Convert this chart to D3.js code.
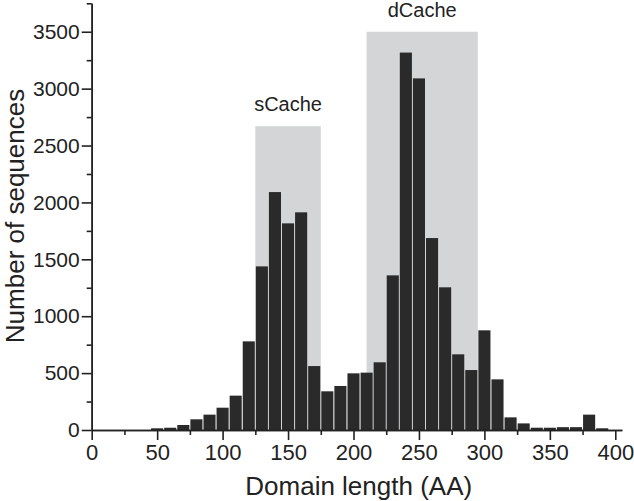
<!DOCTYPE html>
<html>
<head>
<meta charset="utf-8">
<script src="https://cdn.jsdelivr.net/npm/d3@7"></script>
<style>
  body { margin: 0; background: #fff; }
  svg text { font-family: "Liberation Sans", Arial, sans-serif; fill: #222; }
  .axis path, .axis line { stroke: #222; stroke-width: 1.6; }
</style>
</head>
<body>
<svg id="chart" width="634" height="501"></svg>
<script>
// histogram bins (start of each 10 AA bin) and counts
const binStarts = [45, 55, 65, 75, 85, 95, 105, 115, 125, 135, 145, 155, 165, 175, 185, 195,
                   205, 215, 225, 235, 245, 255, 265, 275, 285, 295, 305, 315, 325, 335, 345,
                   355, 365, 375, 385];
const counts = [15, 20, 44, 94, 135, 196, 302, 779, 1438, 2091, 1816, 1913, 562, 340, 387, 498,
                504, 595, 1359, 3317, 3090, 1687, 1254, 665, 527, 876, 445, 111, 58, 20, 20,
                25, 25, 135, 15];
const binWidth = 10;

// shaded domain regions
const regionNames = ["sCache", "dCache"];
const regionStarts = [125, 210];
const regionEnds = [175, 295];
const regionTops = [2670, 3500];

const xTicks = [0, 50, 100, 150, 200, 250, 300, 350, 400];
const yTicks = [0, 500, 1000, 1500, 2000, 2500, 3000, 3500];

const svg = d3.select("#chart");

const x = d3.scaleLinear().domain([0, 405]).range([91.7, 91.7 + 405 * 1.309]);
const y = d3.scaleLinear().domain([0, 3750]).range([430, 3.3]);

// grey boxes behind bars
const regions = regionNames.map((n, i) => ({name: n, x0: regionStarts[i], x1: regionEnds[i], top: regionTops[i]}));

svg.append("g").selectAll("rect")
    .data(regions)
    .enter().append("rect")
    .attr("x", d => x(d.x0))
    .attr("y", d => y(d.top))
    .attr("width", d => x(d.x1) - x(d.x0))
    .attr("height", d => y(0) - y(d.top))
    .attr("fill", "#d4d5d7");

svg.append("g").selectAll("text")
    .data(regions)
    .enter().append("text")
    .attr("x", d => x((d.x0 + d.x1) / 2))
    .attr("y", d => y(d.top) - 15)
    .attr("text-anchor", "middle")
    .style("font-size", "20px")
    .text(d => d.name);

// bars
const bins = binStarts.map((s, i) => ({x0: s, x1: s + binWidth, n: counts[i]}));

svg.append("g").selectAll("rect")
    .data(bins)
    .enter().append("rect")
    .attr("x", d => x(d.x0) + 0.5)
    .attr("y", d => y(d.n))
    .attr("width", d => x(d.x1) - x(d.x0) - 1)
    .attr("height", d => y(0) - y(d.n))
    .attr("fill", "#2a2a2a");

// minor ticks
const xMinor = d3.range(25, 401, 50);
const yMinor = d3.range(250, 3751, 500);

svg.append("g")
    .attr("class", "axis")
    .attr("transform", `translate(0,${y(0)})`)
    .call(d3.axisBottom(x).tickValues(xMinor).tickSize(5).tickSizeOuter(0).tickFormat(""));

svg.append("g")
    .attr("class", "axis")
    .attr("transform", `translate(${x(0)},0)`)
    .call(d3.axisLeft(y).tickValues(yMinor).tickSize(5).tickSizeOuter(0).tickFormat(""));

const xAxis = svg.append("g")
    .attr("class", "axis")
    .attr("transform", `translate(0,${y(0)})`)
    .call(d3.axisBottom(x).tickValues(xTicks).tickSize(10).tickSizeOuter(0).tickPadding(4)
        .tickFormat(d3.format("d")));

xAxis.selectAll("text").style("font-size", "22px");

const yAxis = svg.append("g")
    .attr("class", "axis")
    .attr("transform", `translate(${x(0)},0)`)
    .call(d3.axisLeft(y).tickValues(yTicks).tickSize(10).tickSizeOuter(0).tickPadding(2)
        .tickFormat(d3.format("d")));

yAxis.selectAll("text").style("font-size", "21px");

svg.selectAll(".axis text").attr("fill", "#222");

// axis titles
svg.append("text")
    .attr("x", x(204))
    .attr("y", 495)
    .attr("text-anchor", "middle")
    .style("font-size", "26px")
    .text("Domain length (AA)");

svg.append("text")
    .attr("transform", "rotate(-90)")
    .attr("x", -216)
    .attr("y", 24)
    .attr("text-anchor", "middle")
    .style("font-size", "26px")
    .text("Number of sequences");
</script>
</body>
</html>
